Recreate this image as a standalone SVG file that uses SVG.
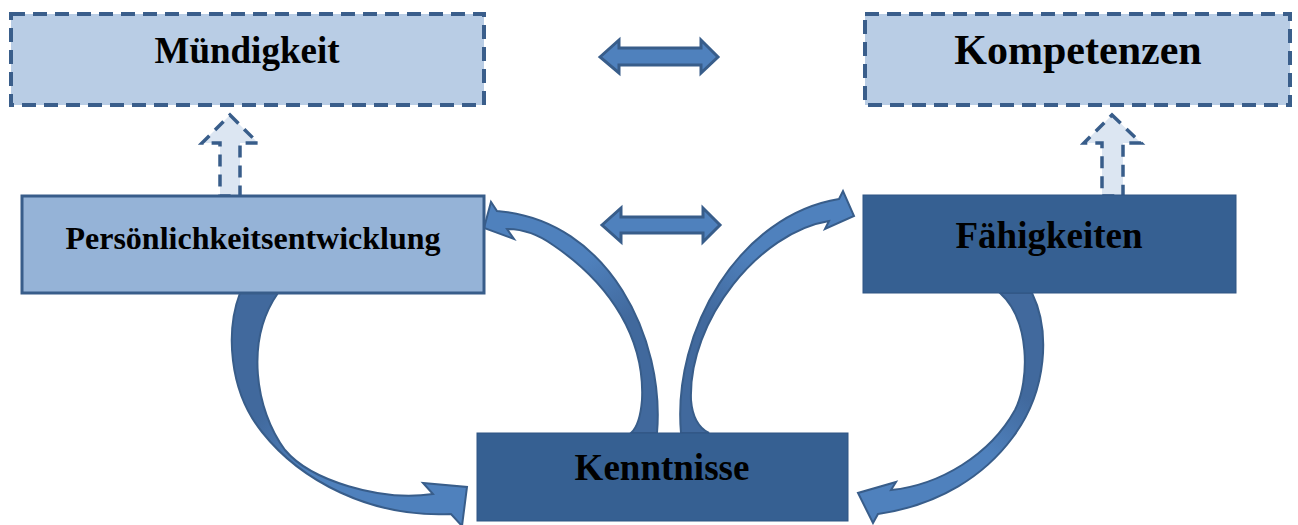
<svg xmlns="http://www.w3.org/2000/svg" width="1298" height="525" viewBox="0 0 1298 525">
  <style>
    .lbl { font-family: "Liberation Serif", "Times New Roman", serif; font-weight: bold; fill: #000; text-anchor: middle; }
    .goal { fill: #B9CDE5; stroke: #3A5E8B; stroke-width: 4; stroke-dasharray: 14 8; }
    .light { fill: #95B3D7; stroke: #385D8A; stroke-width: 3; }
    .dark { fill: #366092; stroke: #2F5583; stroke-width: 1; }
    .dbl { fill: #4F81BD; stroke: #385D8A; stroke-width: 3; stroke-linejoin: miter; }
    .up { fill: #DCE6F2; stroke: #385D8A; stroke-width: 3.5; stroke-dasharray: 12 8; }
    .curve { stroke: #385D8A; stroke-width: 2; stroke-linejoin: miter; }
  </style>
  <defs>
    <linearGradient id="g1" gradientUnits="userSpaceOnUse" x1="255" y1="420" x2="310" y2="470">
      <stop offset="0" stop-color="#41699D"/>
      <stop offset="1" stop-color="#4F81BD"/>
    </linearGradient>
    <linearGradient id="g2" gradientUnits="userSpaceOnUse" x1="640" y1="310" x2="600" y2="250">
      <stop offset="0" stop-color="#41699D"/>
      <stop offset="1" stop-color="#4F81BD"/>
    </linearGradient>
    <linearGradient id="g3" gradientUnits="userSpaceOnUse" x1="700" y1="310" x2="745" y2="250">
      <stop offset="0" stop-color="#41699D"/>
      <stop offset="1" stop-color="#4F81BD"/>
    </linearGradient>
    <linearGradient id="g4" gradientUnits="userSpaceOnUse" x1="1030" y1="400" x2="990" y2="455">
      <stop offset="0" stop-color="#41699D"/>
      <stop offset="1" stop-color="#4F81BD"/>
    </linearGradient>
  </defs>

  <g id="connectors">
    <!-- two-headed arrows between the columns -->
    <path class="dbl" d="M600,57 L619,40 L619,48 L701,48 L701,40 L718,57 L701,73 L701,65 L619,65 L619,73 Z"/>
    <path class="dbl" d="M602,225 L621,208 L621,217 L703,217 L703,208 L720,225 L703,242 L703,233 L621,233 L621,242 Z"/>
    <!-- dashed upward arrows -->
    <path class="up" d="M230,115 L258,143 L240,143 L240,196 L220,196 L220,143 L202,143 Z"/>
    <path class="up" d="M1112,115 L1141,143 L1123,143 L1123,196 L1102,196 L1102,143 L1084,143 Z"/>
    <!-- curved arrows -->
    <path class="curve" fill="url(#g1)" d="M240,293 C226,330 228,390 262,432 C300,480 370,518 451,514 L462,526 L467,487 L423,483 L433,494 C380,502 310,480 285,450 C255,410 245,340 278,293 Z"/>
    <path class="curve" fill="url(#g2)" d="M631,433 Q640,425 642,400 C645,340 612,285 553,245 C535,232 520,229 507,229 L514,239 L484,228 L491,202 L497,211 C610,220 665,340 657,433 Z"/>
    <path class="curve" fill="url(#g3)" d="M681,433 C672,330 740,215 839,199 L843,191 L854,216 L825,229 L829,221 C760,232 688,320 691,400 Q693,425 709,433 Z"/>
    <path class="curve" fill="url(#g4)" d="M1032,293 C1050,330 1048,390 1013,437 C985,475 940,505 878,514 L873,523 L858,493 L896,482 L891,490 C940,485 990,455 1015,410 C1030,380 1030,320 1000,293 Z"/>
  </g>

  <g id="muendigkeit">
    <rect class="goal" x="11" y="14" width="473" height="91"/>
    <text class="lbl" x="247" y="63" font-size="37">Mündigkeit</text>
  </g>

  <g id="kompetenzen">
    <rect class="goal" x="865" y="14" width="425" height="91"/>
    <text class="lbl" x="1078" y="64" font-size="42">Kompetenzen</text>
  </g>

  <g id="persoenlichkeitsentwicklung">
    <rect class="light" x="22" y="196" width="462" height="97"/>
    <text class="lbl" x="253" y="249" font-size="32">Persönlichkeitsentwicklung</text>
  </g>

  <g id="faehigkeiten">
    <rect class="dark" x="863" y="195" width="373" height="98"/>
    <text class="lbl" x="1049" y="248" font-size="37">Fähigkeiten</text>
  </g>

  <g id="kenntnisse">
    <rect class="dark" x="477" y="433" width="371" height="88"/>
    <text class="lbl" x="662" y="480" font-size="37">Kenntnisse</text>
  </g>
</svg>
